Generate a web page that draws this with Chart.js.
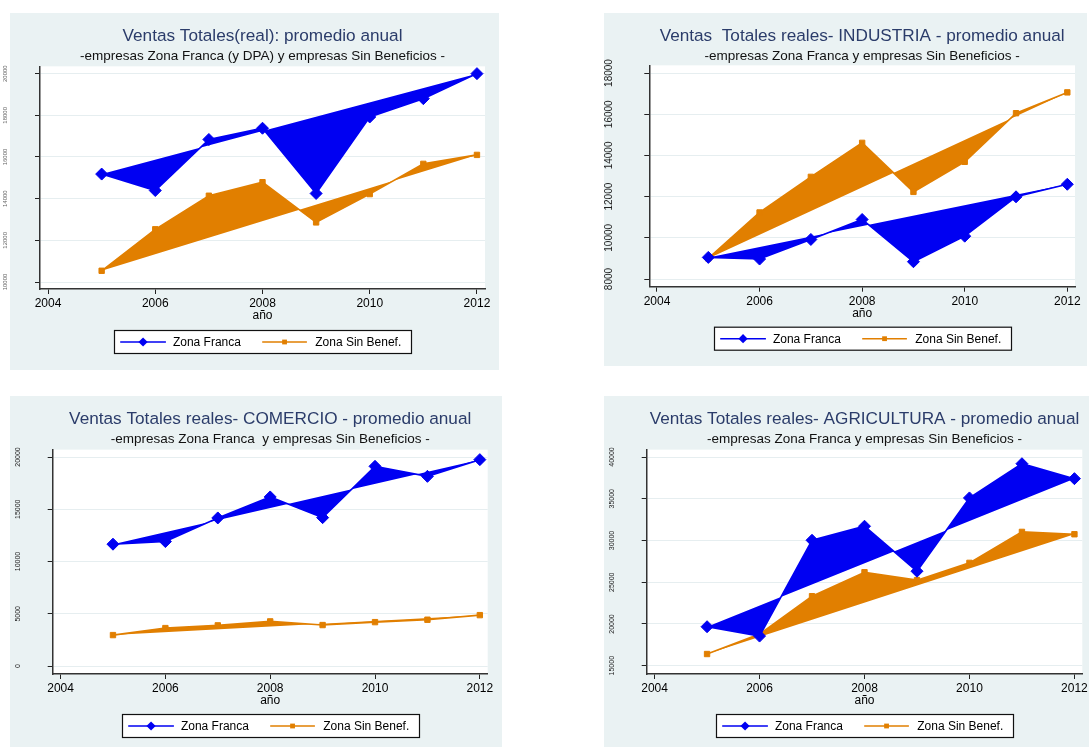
<!DOCTYPE html>
<html>
<head>
<meta charset="utf-8">
<script src="https://cdn.jsdelivr.net/npm/chart.js@4.4.1/dist/chart.umd.min.js"></script>
<style>
  html, body { margin: 0; padding: 0; background: #ffffff; overflow: hidden; width: 1089px; height: 747px; }
  .panel { position: absolute; background: #EAF2F3; }
  canvas { position: absolute; }
</style>
</head>
<body>
<div class="panel" style="left:10px;top:13px;width:489px;height:357px"></div>
<div class="panel" style="left:604px;top:13px;width:483px;height:353px"></div>
<div class="panel" style="left:10px;top:396px;width:492px;height:351px"></div>
<div class="panel" style="left:604px;top:396px;width:485px;height:351px"></div>
<canvas id="total" width="499" height="357" style="left:0px;top:13px"></canvas>
<canvas id="industria" width="495" height="353" style="left:604px;top:13px"></canvas>
<canvas id="comercio" width="492" height="351" style="left:10px;top:396px"></canvas>
<canvas id="agricultura" width="495" height="351" style="left:604px;top:396px"></canvas>
<script>
// ---- data: average real sales per year ----
const years = [2005, 2006, 2007, 2008, 2009, 2010, 2011, 2012];
const yearTicks = [2004, 2006, 2008, 2010, 2012];
const seriesNames = ['Zona Franca', 'Zona Sin Benef.'];

const totalZonaFranca = [15180, 14390, 16840, 17380, 14250, 17920, 18800, 20000];
const totalSinBenef   = [10540, 12530, 14140, 14790, 12860, 14220, 15670, 16100];
const totalTicks      = [10000, 12000, 14000, 16000, 18000, 20000];

const industriaZonaFranca = [9050, 8970, 9920, 10890, 8840, 10080, 11990, 12600];
const industriaSinBenef   = [9000, 11230, 12960, 14610, 12230, 13690, 16050, 17060];
const industriaTicks      = [8000, 10000, 12000, 14000, 16000, 18000];

const comercioZonaFranca = [11660, 11910, 14170, 16180, 14200, 19110, 18150, 19750];
const comercioSinBenef   = [2960, 3630, 3890, 4270, 3920, 4200, 4430, 4870];
const comercioTicks      = [0, 5000, 10000, 15000, 20000];

const agriculturaZonaFranca = [19670, 18550, 30030, 31710, 26320, 35100, 39200, 37410];
const agriculturaSinBenef   = [16400, 18790, 23330, 26200, 25250, 27320, 31030, 30750];
const agriculturaTicks      = [15000, 20000, 25000, 30000, 35000, 40000];

// ---- styling ----
const FONT = "'Liberation Sans', Arial, Helvetica, sans-serif";
const BLUE = '#0000F2';
const ORANGE = '#E17F00';
const TITLE_COLOR = '#2B3C6A';
Chart.defaults.font.family = FONT;

// white plot region
const plotBackground = {
  id: 'plotBackground',
  beforeDraw(chart) {
    const a = chart.chartArea, ctx = chart.ctx;
    ctx.save();
    ctx.fillStyle = '#ffffff';
    ctx.fillRect(a.left, a.top, a.right - a.left, a.bottom - a.top);
    ctx.restore();
  }
};

function drawMarker(ctx, style, x, y, r, color) {
  ctx.fillStyle = color;
  ctx.beginPath();
  if (style === 'rectRot') {
    ctx.moveTo(x, y - r); ctx.lineTo(x + r, y); ctx.lineTo(x, y + r); ctx.lineTo(x - r, y);
  } else {
    ctx.rect(x - r, y - r, 2 * r, 2 * r);
  }
  ctx.closePath();
  ctx.fill();
}

// boxed legend with line + marker keys, centred under the plot
const legendBox = {
  id: 'legendBox',
  afterDraw(chart, args, opts) {
    const ctx = chart.ctx, a = chart.chartArea;
    const w = 297, h = 23;
    const x0 = Math.round((a.left + a.right) / 2 - w / 2) + 0.5;
    const y0 = opts.top + 0.5;
    const cy = y0 + h / 2;
    const keys = [
      { lineX: 5.7, lineLen: 45.7, textX: 58.4, r: 4.6 },
      { lineX: 147.7, lineLen: 44.7, textX: 200.7, r: 2.4 }
    ];
    ctx.save();
    ctx.fillStyle = '#ffffff';
    ctx.fillRect(x0, y0, w, h);
    ctx.strokeStyle = '#111111';
    ctx.lineWidth = 1.2;
    ctx.strokeRect(x0, y0, w, h);
    chart.data.datasets.forEach((ds, i) => {
      const k = keys[i];
      ctx.strokeStyle = ds.borderColor;
      ctx.lineWidth = 1.6;
      ctx.beginPath();
      ctx.moveTo(x0 + k.lineX, cy);
      ctx.lineTo(x0 + k.lineX + k.lineLen, cy);
      ctx.stroke();
      drawMarker(ctx, ds.pointStyle, x0 + k.lineX + k.lineLen / 2, cy, k.r, ds.borderColor);
      ctx.fillStyle = '#000000';
      ctx.font = '12px ' + FONT;
      ctx.textBaseline = 'middle';
      ctx.textAlign = 'left';
      ctx.fillText(ds.label, x0 + k.textX, cy + 0.5);
    });
    ctx.restore();
  }
};

function makePanel(cfg) {
  const area = cfg.area;
  const xAxisHeight = 33.7;
  const pts = (vals) => years.map((yr, i) => ({ x: yr, y: vals[i] }));
  return new Chart(document.getElementById(cfg.id), {
    type: 'line',
    data: {
      datasets: [
        {
          label: seriesNames[0], data: pts(cfg.zonaFranca),
          borderColor: BLUE, backgroundColor: BLUE, borderWidth: 1.6,
          fill: 'shape', pointStyle: 'rectRot', pointRadius: 6,
          pointBackgroundColor: BLUE, pointBorderColor: BLUE, pointBorderWidth: 1
        },
        {
          label: seriesNames[1], data: pts(cfg.sinBenef),
          borderColor: ORANGE, backgroundColor: ORANGE, borderWidth: 1.6,
          fill: 'shape', pointStyle: 'rect', pointRadius: 3.8,
          pointBackgroundColor: ORANGE, pointBorderColor: ORANGE, pointBorderWidth: 1
        }
      ]
    },
    options: {
      responsive: false, animation: false, devicePixelRatio: 1,
      elements: { line: { tension: 0 } },
      layout: { padding: { left: 0, top: 0, right: cfg.w - area.r, bottom: cfg.h - area.b - xAxisHeight } },
      scales: {
        x: {
          type: 'linear', min: 2003.85, max: 2012.15,
          afterBuildTicks: (s) => { s.ticks = yearTicks.map(v => ({ value: v })); },
          afterFit: (s) => { s.height = xAxisHeight; },
          grid: { drawOnChartArea: false, drawTicks: true, tickLength: 5, tickColor: '#222', tickWidth: 1 },
          border: { color: '#333', width: 1.5 },
          ticks: { padding: 2.3, color: '#000', font: { size: 12 }, maxRotation: 0, callback: v => String(v) },
          title: { display: true, text: 'año', color: '#000', font: { size: 12 }, padding: { top: 0, bottom: 0 } }
        },
        y: {
          type: 'linear', min: cfg.yMin, max: cfg.yMax,
          afterBuildTicks: (s) => { s.ticks = cfg.ticks.map(v => ({ value: v })); },
          afterFit: (s) => { s.width = area.l; },
          grid: { color: '#E6EEF0', lineWidth: 1, drawTicks: true, tickLength: 5, tickColor: '#222', tickWidth: 1 },
          border: { color: '#333', width: 1.5 },
          ticks: {
            minRotation: 90, maxRotation: 90, crossAlign: 'center',
            padding: cfg.yPad, color: cfg.yColor, font: { size: cfg.yFont },
            callback: v => String(v)
          }
        }
      },
      plugins: {
        legend: { display: false },
        tooltip: { enabled: false },
        title: {
          display: true, text: cfg.title, color: TITLE_COLOR, fullSize: false,
          font: { size: 17.2, weight: 'normal' }, padding: { top: 13.3, bottom: 0 }
        },
        subtitle: {
          display: true, text: cfg.subtitle, color: '#111', fullSize: false,
          font: { size: 13.5, weight: 'normal' }, padding: { top: 1.5, bottom: area.t - 51.3 }
        },
        legendBox: { top: cfg.legendTop }
      }
    },
    plugins: [plotBackground, legendBox]
  });
}

makePanel({
  id: 'total', w: 499, h: 357,
  title: 'Ventas Totales(real): promedio anual',
  subtitle: '-empresas Zona Franca (y DPA) y empresas Sin Beneficios -',
  zonaFranca: totalZonaFranca, sinBenef: totalSinBenef, ticks: totalTicks,
  yMin: 9665, yMax: 20350,
  area: { l: 40, r: 485, t: 53, b: 276 },
  yFont: 6, yPad: 21.7, yColor: '#666', legendTop: 317
});

makePanel({
  id: 'industria', w: 495, h: 353,
  title: 'Ventas  Totales reales- INDUSTRIA - promedio anual',
  subtitle: '-empresas Zona Franca y empresas Sin Beneficios -',
  zonaFranca: industriaZonaFranca, sinBenef: industriaSinBenef, ticks: industriaTicks,
  yMin: 7627, yMax: 18373,
  area: { l: 45.3, r: 471, t: 52, b: 273.7 },
  yFont: 10, yPad: 21.1, yColor: '#222', legendTop: 313.7
});

makePanel({
  id: 'comercio', w: 492, h: 351,
  title: 'Ventas Totales reales- COMERCIO - promedio anual',
  subtitle: '-empresas Zona Franca  y empresas Sin Beneficios -',
  zonaFranca: comercioZonaFranca, sinBenef: comercioSinBenef, ticks: comercioTicks,
  yMin: -764, yMax: 20707,
  area: { l: 42.7, r: 477.7, t: 53.3, b: 278 },
  yFont: 7, yPad: 20, yColor: '#222', legendTop: 318
});

makePanel({
  id: 'agricultura', w: 495, h: 351,
  title: 'Ventas Totales reales- AGRICULTURA - promedio anual',
  subtitle: '-empresas Zona Franca y empresas Sin Beneficios -',
  zonaFranca: agriculturaZonaFranca, sinBenef: agriculturaSinBenef, ticks: agriculturaTicks,
  yMin: 14007, yMax: 40885,
  area: { l: 42.7, r: 478.3, t: 53.3, b: 278 },
  yFont: 7, yPad: 20, yColor: '#222', legendTop: 318
});
</script>
</body>
</html>
